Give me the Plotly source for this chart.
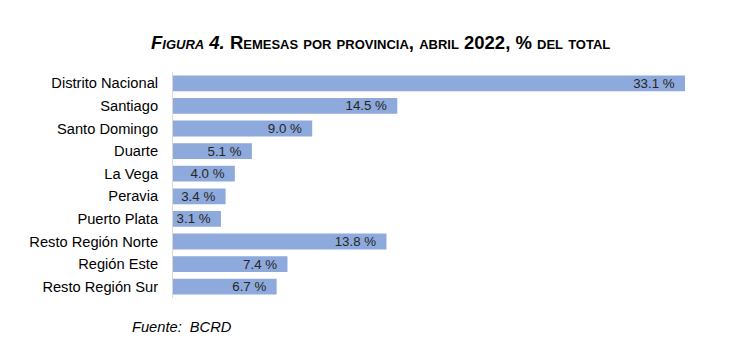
import plotly.graph_objects as go

categories = ["Distrito Nacional", "Santiago", "Santo Domingo", "Duarte", "La Vega",
              "Peravia", "Puerto Plata", "Resto Región Norte", "Región Este", "Resto Región Sur"]
values = [33.1, 14.5, 9.0, 5.1, 4.0, 3.4, 3.1, 13.8, 7.4, 6.7]

title_text = "<i>Figura 4.</i> Remesas por provincia, abril 2022, % del total"
source_text = "<i>Fuente:  BCRD</i>"

W, H = 744, 342
L, R, T, B = 173, 59, 72, 44

fig = go.Figure(go.Bar(
    x=values, y=categories, orientation="h",
    marker=dict(color="#8EA9DB", line=dict(width=0)),
    width=0.7,
    text=[f"{v:.1f} %\u00a0\u00a0" for v in values],
    textposition="inside", insidetextanchor="end",
    constraintext="none",
    textfont=dict(family="Liberation Sans, Arial", size=13.3, color="#262626"),
    cliponaxis=False,
))

fig.update_layout(
    width=W, height=H,
    margin=dict(l=L, r=R, t=T, b=B),
    paper_bgcolor="white", plot_bgcolor="white",
    showlegend=False,
    font=dict(family="Liberation Sans, Arial", size=14.67, color="#000000"),
    xaxis=dict(range=[0, 33.1], visible=False, fixedrange=True),
    yaxis=dict(autorange="reversed", showgrid=False, zeroline=False,
               showline=True, linecolor="#D9D9D9", linewidth=1,
               ticks="", ticklabelstandoff=11,
               tickfont=dict(family="Liberation Sans, Arial", size=14.67, color="#000000")),
    bargap=0.3,
    annotations=[
        dict(text=title_text, xref="paper", yref="paper",
             x=(380 - L) / (W - L - R), y=1 + (72 - 43) / (H - T - B),
             xanchor="center", yanchor="middle", showarrow=False,
             font=dict(family="Liberation Sans, Arial", size=18.5, color="#000000",
                       weight="bold", variant="small-caps")),
        dict(text=source_text, xref="paper", yref="paper",
             x=(130 - L) / (W - L - R), y=-(327 - (H - B)) / (H - T - B),
             xanchor="left", yanchor="middle", showarrow=False,
             font=dict(family="Liberation Sans, Arial", size=14.67, color="#000000")),
    ],
)

fig.write_html("out.html")
